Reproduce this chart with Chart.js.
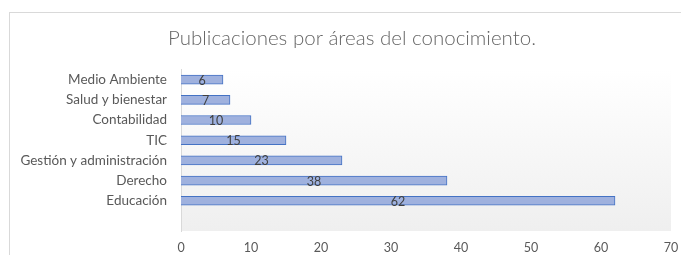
<!DOCTYPE html>
<html>
<head>
<meta charset="utf-8">
<script src="https://cdn.jsdelivr.net/npm/chart.js@4"></script>
<style>
  html, body { margin: 0; padding: 0; background: #fff; overflow: hidden; }
  #frame {
    position: absolute; left: 9px; top: 12px;
    width: 690px; height: 260px;
    border-left: 1px solid #d9d9d9; border-top: 1px solid #d9d9d9;
  }
  #wrap { position: absolute; left: 0; top: 0; width: 684px; height: 242px; }
</style>
</head>
<body>
<div id="frame"><div id="wrap"><canvas id="chart"></canvas></div></div>
<script>
const categories = ['Medio Ambiente', 'Salud y bienestar', 'Contabilidad', 'TIC', 'Gestión y administración', 'Derecho', 'Educación', ''];
const publicaciones = [6, 7, 10, 15, 23, 38, 62, null];
const xTicks = [0, 10, 20, 30, 40, 50, 60, 70];

const plotBackground = {
    id: 'plotBackground',
    beforeDraw(chart) {
        const { ctx, chartArea: a } = chart;
        const g = ctx.createLinearGradient(0, a.top, 0, a.bottom);
        g.addColorStop(0, '#ffffff');
        g.addColorStop(1, '#efefef');
        ctx.save();
        ctx.fillStyle = g;
        ctx.fillRect(a.left, a.top, a.right - a.left, a.bottom - a.top);
        ctx.restore();
    }
};

const barLabels = {
    id: 'barLabels',
    afterDatasetsDraw(chart) {
        const { ctx } = chart;
        const meta = chart.getDatasetMeta(0);
        ctx.save();
        ctx.font = '12.5px Lato';
        ctx.fillStyle = '#404040';
        ctx.textAlign = 'center';
        ctx.textBaseline = 'middle';
        meta.data.forEach((bar, i) => {
            const v = publicaciones[i];
            if (v == null) return;
            ctx.fillText(String(v), (bar.x + bar.base) / 2, bar.y + 1);
        });
        ctx.restore();
    }
};

new Chart(document.getElementById('chart'), {
    type: 'bar',
    data: {
        labels: categories,
        datasets: [{
            data: publicaciones,
            backgroundColor: '#9fb1de',
            borderColor: '#4472c4',
            borderWidth: 1,
            barThickness: 9
        }]
    },
    options: {
        indexAxis: 'y',
        responsive: true,
        maintainAspectRatio: false,
        animation: false,
        layout: { padding: 0 },
        plugins: {
            legend: { display: false },
            tooltip: { enabled: false },
            title: {
                display: true,
                text: 'Publicaciones por áreas del conocimiento.',
                color: '#666666',
                font: { family: 'Lato', size: 20.5, weight: 300 },
                padding: { top: 13, bottom: 19 }
            }
        },
        scales: {
            y: {
                grid: { display: false, drawTicks: false },
                border: { display: true, color: '#d9d9d9' },
                ticks: { color: '#595959', font: { family: 'Lato', size: 13.5 }, padding: 14 },
                afterFit(scale) { scale.width = 171; }
            },
            x: {
                min: 0,
                max: 70,
                afterBuildTicks(scale) { scale.ticks = xTicks.map(v => ({ value: v })); },
                grid: { display: false, drawTicks: false },
                border: { display: false },
                ticks: { color: '#595959', font: { family: 'Lato', size: 12.5 }, padding: 9, maxRotation: 0 },
                afterFit(scale) { scale.height = 24; scale.paddingRight = 23; }
            }
        }
    },
    plugins: [plotBackground, barLabels]
});
</script>
</body>
</html>
